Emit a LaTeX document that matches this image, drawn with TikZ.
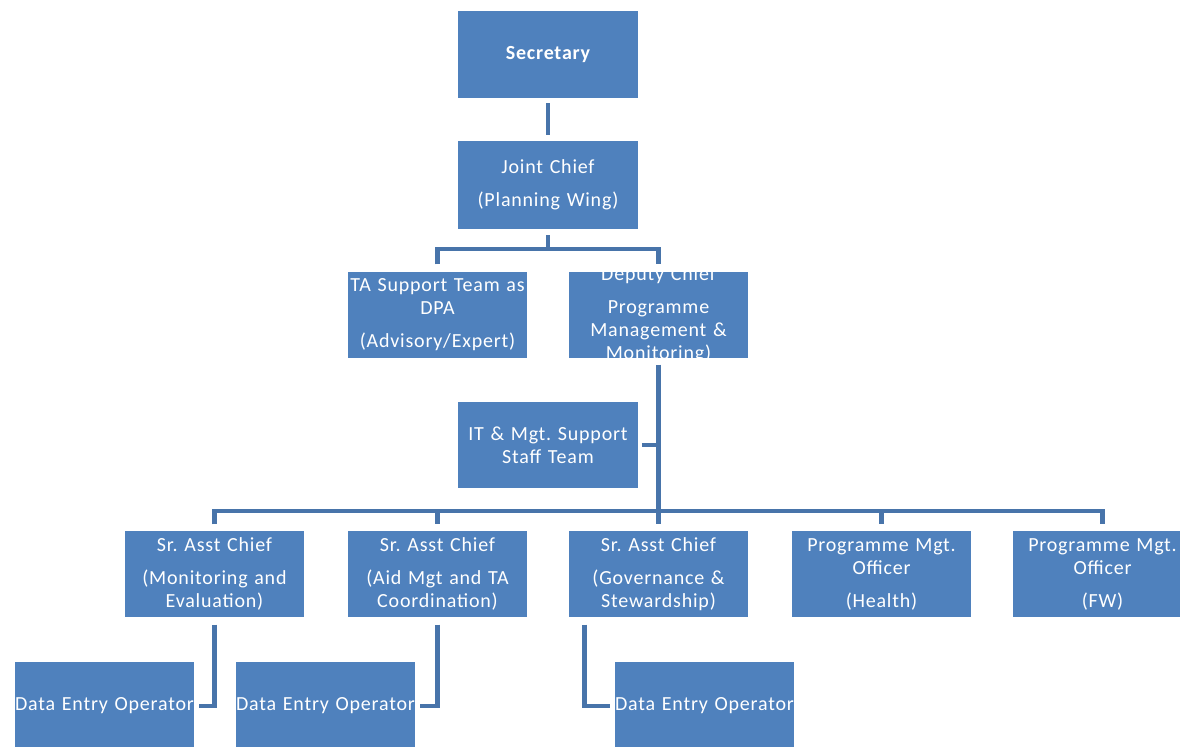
\documentclass[tikz,border=0pt]{standalone}
\usepackage{fontspec}
\setmainfont{Carlito}[LetterSpace=4]
\frenchspacing
\definecolor{boxblue}{RGB}{79,129,189}
\definecolor{lineblue}{RGB}{72,116,170}
\tikzset{
  orgbox/.style={rectangle, fill=boxblue, inner sep=0pt, text=white, align=center,
    text width=134.5pt, minimum height=65pt, font=\fontsize{15}{17.25}\selectfont},
  orgtext/.style={inner sep=0pt, text=white, align=center, text width=134.5pt,
    font=\fontsize{15}{17.25}\selectfont},
  conn/.style={draw=lineblue, line width=3.6pt}
}
\begin{document}
\begin{tikzpicture}[x=0.75pt,y=-0.75pt]
\useasboundingbox (0,0) rectangle (1180,746);
% boxes
\node[orgbox, minimum height=65.25pt, font={\fontsize{15}{17.25}\selectfont\bfseries}] (sec) at (548,54.5) {Secretary};
\node[orgbox, minimum height=66pt] (jc) at (548,185) {Joint Chief\\[7.5pt](Planning Wing)};
\node[orgbox] (ta) at (437.5,315) {TA Support Team as\\DPA\\[7.5pt](Advisory/Expert)};
\node[orgbox] (dep) at (658.5,315) {};
\begin{scope}
  \clip (dep.south west) rectangle (dep.north east);
  \node[orgtext] (deptext) at (dep.center) {Deputy Chief\\[7.5pt]Programme\\Management \&\\Monitoring)};
\end{scope}
\node[orgbox] (it) at (548,445) {IT \& Mgt. Support\\Staff Team};
\node[orgbox] (b1) at (214.5,574) {Sr. Asst Chief\\[7.5pt](Monitoring and\\Evaluation)};
\node[orgbox] (b2) at (437.5,574) {Sr. Asst Chief\\[7.5pt](Aid Mgt and TA\\Coordination)};
\node[orgbox] (b3) at (658.5,574) {Sr. Asst Chief\\[7.5pt](Governance \&\\Stewardship)};
\node[orgbox] (b4) at (881.5,574) {Programme Mgt.\\Officer\\[7.5pt](Health)};
\node[orgbox] (b5) at (1102.5,574) {Programme Mgt.\\Officer\\[7.5pt](FW)};
\node[orgbox, minimum height=66pt] (d1) at (104.5,706) {Data Entry Operator};
\node[orgbox, minimum height=66pt] (d2) at (325.5,706) {Data Entry Operator};
\node[orgbox, minimum height=66pt] (d3) at (704.5,706) {Data Entry Operator};
% bus points
\coordinate (busA) at (548,249);
\coordinate (busB) at (658,511);
% connectors
\draw[conn, shorten <=3.75pt, shorten >=4.5pt] (sec.south) -- (jc.north);
\draw[conn, shorten <=4.5pt] (jc.south) -- (busA);
\draw[conn, shorten <=5.25pt, shorten >=5.25pt] (ta.north) |- (busA) -| (dep.north);
\draw[conn, shorten <=4.5pt, shorten >=4.5pt] (dep.south) -- (b3.north);
\draw[conn, shorten <=3pt] (it.east) -- (it.east -| dep.south);
\draw[conn, shorten <=4.5pt, shorten >=4.5pt] (b1.north) |- (busB) -| (b5.north);
\draw[conn, shorten >=4.5pt] (busB -| b2.north) -- (b2.north);
\draw[conn, shorten >=4.5pt] (busB -| b4.north) -- (b4.north);
\draw[conn, shorten <=5.25pt, shorten >=3.75pt] (b1.south) |- (d1.east);
\draw[conn, shorten <=5.25pt, shorten >=3.75pt] (b2.south) |- (d2.east);
\draw[conn, shorten <=5.25pt, shorten >=3.75pt] ([xshift=12pt]b3.south west) |- (d3.west);
\end{tikzpicture}
\end{document}
